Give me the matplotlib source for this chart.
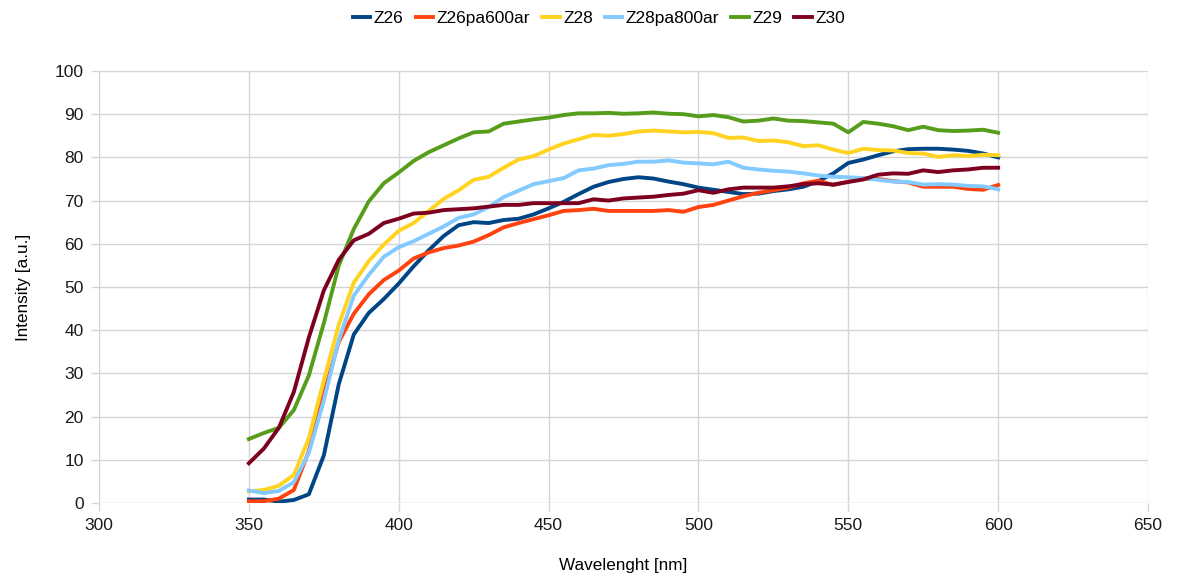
import numpy as np
import matplotlib
matplotlib.use("Agg")
import matplotlib.pyplot as plt

plt.rcParams['font.family'] = ['Liberation Sans', 'DejaVu Sans']

# wavelength grid [nm]
wavelength = np.arange(350, 601, 5)

z26 = [0.8, 0.8, 0.3, 0.7, 2, 11, 27.5, 39, 44, 47.2,
       50.8, 54.8, 58.5, 61.8, 64.3, 65, 64.8, 65.5, 65.8, 66.8,
       68.2, 69.7, 71.5, 73.2, 74.3, 75, 75.4, 75.1, 74.4, 73.8,
       73, 72.5, 72, 71.5, 71.6, 72.2, 72.6, 73.2, 74.5, 76.3,
       78.7, 79.5, 80.5, 81.4, 81.9, 82, 82, 81.8, 81.5, 80.9,
       80]
z26pa600ar = [0.4, 0.4, 1, 3, 12, 25.3, 37.3, 43.8, 48.3, 51.6,
              53.8, 56.6, 58, 59, 59.6, 60.5, 62, 63.8, 64.8, 65.7,
              66.6, 67.6, 67.8, 68.1, 67.6, 67.6, 67.6, 67.6, 67.8, 67.4,
              68.5, 69, 70, 71, 71.8, 72.4, 73, 74, 74.6, 73.6,
              74.4, 75.1, 75, 74.5, 74.2, 73.2, 73.2, 73.2, 72.7, 72.5,
              73.6]
z28 = [2.7, 3, 4, 6.5, 15, 28.4, 41.3, 51, 56, 59.8,
       63, 64.8, 67.6, 70.4, 72.4, 74.8, 75.5, 77.6, 79.5, 80.3,
       81.8, 83.2, 84.2, 85.2, 85, 85.4, 86, 86.2, 86, 85.8,
       85.9, 85.6, 84.5, 84.6, 83.8, 83.9, 83.5, 82.6, 82.8, 81.8,
       81, 82, 81.7, 81.6, 81, 80.9, 80.1, 80.5, 80.3, 80.6,
       80.5]
z28pa800ar = [2.9, 2.3, 2.8, 4.8, 11.6, 23.7, 37.7, 48, 52.8, 57,
              59.2, 60.6, 62.3, 64, 66, 66.8, 68.5, 70.8, 72.3, 73.8,
              74.5, 75.2, 77, 77.4, 78.2, 78.5, 79, 79, 79.3, 78.8,
              78.6, 78.4, 79, 77.6, 77.2, 76.9, 76.7, 76.3, 75.8, 75.5,
              75.4, 75.2, 74.8, 74.4, 74.3, 73.7, 73.8, 73.7, 73.4, 73.3,
              72.6]
z29 = [14.8, 16.2, 17.4, 21.5, 29.5, 41.6, 55, 63.4, 69.8, 74,
       76.5, 79.2, 81.2, 82.8, 84.4, 85.8, 86, 87.8, 88.3, 88.8,
       89.2, 89.8, 90.2, 90.2, 90.3, 90.1, 90.2, 90.4, 90.1, 90,
       89.5, 89.8, 89.3, 88.3, 88.5, 89, 88.5, 88.4, 88.1, 87.8,
       85.8, 88.2, 87.8, 87.2, 86.3, 87.1, 86.3, 86.1, 86.2, 86.4,
       85.7]
z30 = [9.2, 12.6, 17.4, 25.7, 38.3, 49.2, 56.3, 60.8, 62.3, 64.8,
       65.8, 67, 67.2, 67.8, 68, 68.2, 68.6, 69, 69, 69.4,
       69.4, 69.4, 69.4, 70.3, 70, 70.5, 70.7, 70.9, 71.3, 71.6,
       72.4, 71.8, 72.6, 73, 73, 73, 73.3, 73.8, 74, 73.7,
       74.3, 74.9, 76, 76.3, 76.2, 77, 76.6, 77, 77.2, 77.6,
       77.6]

names = ["Z26", "Z26pa600ar", "Z28", "Z28pa800ar", "Z29", "Z30"]
series = [z26, z26pa600ar, z28, z28pa800ar, z29, z30]
colors = ["#004586", "#ff420e", "#ffd320", "#83caff", "#579d1c", "#7e0021"]

fig = plt.figure(figsize=(11.79, 5.78), dpi=100)
ax = fig.add_axes([0.084, 0.1298, 0.8897, 0.7474])

for name, vals, c in zip(names, series, colors):
    ax.plot(wavelength, vals, color=c, lw=2.8, label=name, solid_joinstyle="round")

grid_c = "#d4d4d4"
ax.set_xlim(300, 650)
ax.set_ylim(0, 100)
ax.set_xticks(np.arange(300, 651, 50))
ax.set_yticks(np.arange(0, 101, 10))
ax.grid(True, color=grid_c, lw=1)
ax.set_axisbelow(True)
for s in ax.spines.values():
    s.set_visible(False)
ax.tick_params(axis="both", length=6, width=1, color=grid_c,
               labelsize=12.5, labelcolor="#1a1a1a", pad=5)

ax.set_xlabel("Wavelenght [nm]", fontsize=12.3, labelpad=18)
ax.set_ylabel("Intensity [a.u.]", fontsize=12.3, labelpad=17)

fig.legend(loc="upper center", bbox_to_anchor=(0.508, 1.008), ncol=6,
           frameon=False, fontsize=12.5, handlelength=1.0,
           handletextpad=0.2, columnspacing=0.7)

fig.savefig("out.png", dpi=100)
